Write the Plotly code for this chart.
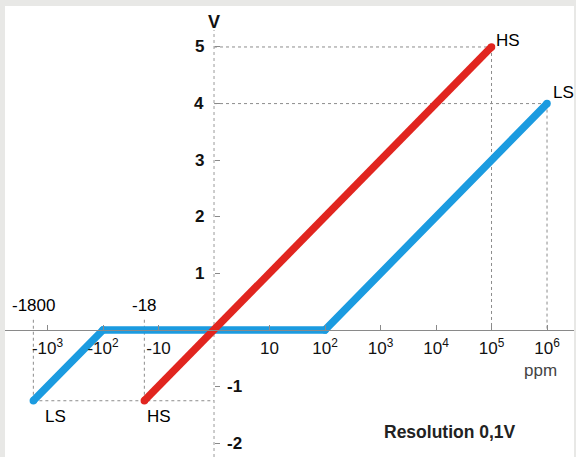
import numpy as np
import plotly.graph_objects as go

# ---- data (ppm vs output voltage) ----
hs_ppm = [-18, 1e5]
hs_volt = [-1.25, 5]
ls_ppm = [-1800, -100, 100, 1e6]
ls_volt = [-1.25, 0, 0, 4]

x_tick_values = [-1e3, -1e2, -10, 10, 1e2, 1e3, 1e4, 1e5, 1e6]
x_tick_labels = ["-10<sup>3</sup>", "-10<sup>2</sup>", "-10", "10", "10<sup>2</sup>",
                 "10<sup>3</sup>", "10<sup>4</sup>", "10<sup>5</sup>", "10<sup>6</sup>"]
y_tick_values = [-2, -1, 1, 2, 3, 4, 5]
marked_ppm = [-1800, -18]
marked_labels = ["-1800", "-18"]

RED = "#e1251f"
BLUE = "#1b9be0"
GUIDE = "#8c8c8c"
FONT = "Liberation Sans, Arial, sans-serif"


def to_axis(v):
    """symmetric log mapping of ppm to axis units"""
    v = np.asarray(v, dtype=float)
    return np.sign(v) * np.log10(np.maximum(np.abs(v), 1.0))


X_RANGE = [-3.766, 6.486]
Y_RANGE = [-2.244, 5.724]

fig = go.Figure()

# guide lines (dotted)
u_hs_top = float(to_axis(hs_ppm[-1]))
u_ls_top = float(to_axis(ls_ppm[-1]))
u_hs_bot = float(to_axis(hs_ppm[0]))
u_ls_bot = float(to_axis(ls_ppm[0]))
guides = [
    (0, hs_volt[-1], u_hs_top, hs_volt[-1]),
    (u_hs_top, hs_volt[-1], u_hs_top, 0),
    (0, ls_volt[-1], u_ls_top, ls_volt[-1]),
    (u_ls_top, ls_volt[-1], u_ls_top, 0),
    (u_ls_bot, ls_volt[0], 0, ls_volt[0]),
    (u_ls_bot, ls_volt[0], u_ls_bot, 0.2),
    (u_hs_bot, hs_volt[0], u_hs_bot, 0.2),
]
for x0, y0, x1, y1 in guides:
    fig.add_shape(type="line", x0=x0, y0=y0, x1=x1, y1=y1, xref="x", yref="y",
                  line=dict(color=GUIDE, width=1, dash="dot"), layer="below")

# dotted vertical axis
fig.add_shape(type="line", x0=0, x1=0, y0=Y_RANGE[0], y1=5.3, xref="x", yref="y",
              line=dict(color="#9a9a9a", width=1, dash="dot"), layer="below")

fig.add_trace(go.Scatter(x=to_axis(ls_ppm), y=ls_volt, mode="lines+markers",
                         line=dict(color=BLUE, width=7.5),
                         marker=dict(color=BLUE, size=7.5), hoverinfo="skip",
                         showlegend=False))
fig.add_trace(go.Scatter(x=to_axis(hs_ppm), y=hs_volt, mode="lines+markers",
                         line=dict(color=RED, width=7.5),
                         marker=dict(color=RED, size=7.5), hoverinfo="skip",
                         showlegend=False))

ann = []
bold17 = dict(size=17, family=FONT, color="#111", weight="bold")
# y tick labels
for v in y_tick_values:
    if v > 0:
        ann.append(dict(x=0, y=v, text=str(v), xanchor="right", xshift=-8,
                        showarrow=False, font=bold17))
    else:
        ann.append(dict(x=0, y=v, text=str(v), xanchor="left", xshift=11,
                        showarrow=False, font=bold17))
# marked ppm labels
lab_font = dict(size=17, family=FONT, color="#000")
for p, t in zip(marked_ppm, marked_labels):
    ann.append(dict(x=float(to_axis(p)), y=0.44, text=t, showarrow=False, font=lab_font))
# end labels
ann += [
    dict(x=u_hs_top, y=hs_volt[-1], text="HS", xanchor="left", xshift=2, yshift=6,
         showarrow=False, font=lab_font),
    dict(x=u_ls_top, y=ls_volt[-1], text="LS", xanchor="left", xshift=4, yshift=11,
         showarrow=False, font=lab_font),
    dict(x=u_ls_bot, y=ls_volt[0], text="LS", xanchor="left", xshift=10, yshift=-16,
         showarrow=False, font=lab_font),
    dict(x=u_hs_bot, y=hs_volt[0], text="HS", xanchor="left", xshift=1, yshift=-16,
         showarrow=False, font=lab_font),
    dict(x=0, y=5.45, text="V", showarrow=False,
         font=dict(size=18, family=FONT, color="#111", weight="bold")),
    dict(x=5.89, y=-0.72, text="ppm", showarrow=False,
         font=dict(size=17, family=FONT, color="#444")),
    dict(x=4.25, y=-1.80, text="Resolution 0,1V", showarrow=False,
         font=dict(size=17.5, family=FONT, color="#222", weight="bold")),
]

fig.update_layout(
    width=576, height=457,
    margin=dict(l=5, r=2, t=6, b=0, pad=0),
    paper_bgcolor="#e8e8e6",
    plot_bgcolor="white",
    annotations=ann,
    xaxis=dict(range=X_RANGE, anchor="free", position=(0 - Y_RANGE[0]) / (Y_RANGE[1] - Y_RANGE[0]),
               automargin=False,
               showline=True, linecolor="#8a8a8a", linewidth=1,
               ticks="inside", ticklen=5, tickcolor="#8a8a8a",
               ticklabelstandoff=3,
               tickvals=to_axis(x_tick_values), ticktext=x_tick_labels,
               tickfont=dict(size=17, family=FONT, color="#111"),
               showgrid=False, zeroline=False, fixedrange=True),
    yaxis=dict(range=Y_RANGE, anchor="free", position=(0 - X_RANGE[0]) / (X_RANGE[1] - X_RANGE[0]),
               automargin=False,
               showline=False, ticks="inside", ticklen=5, tickcolor="#8a8a8a",
               tickvals=y_tick_values, showticklabels=False,
               showgrid=False, zeroline=False, fixedrange=True),
)

fig.write_html("out.html", config={"displayModeBar": False},
               post_script="document.body.style.margin='0';document.body.style.overflow='hidden';")
